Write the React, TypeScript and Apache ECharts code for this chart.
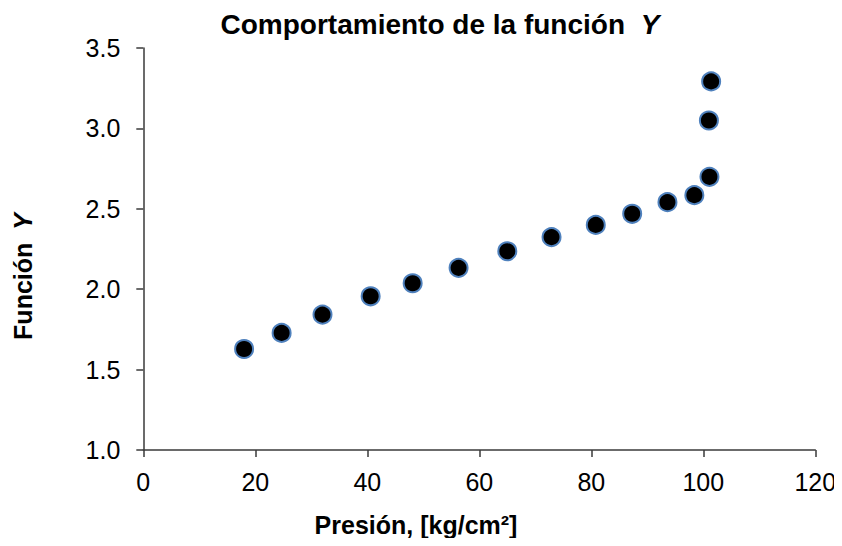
import React, { useEffect, useRef } from "react";
import * as echarts from "echarts";

const presion: number[] = [18.0, 24.7, 32.0, 40.6, 48.1, 56.3, 65.0, 72.9, 80.8, 87.3, 93.6, 98.4, 101.1, 101.0, 101.4];
const funcionY: number[] = [1.628, 1.728, 1.842, 1.956, 2.037, 2.133, 2.236, 2.324, 2.4, 2.469, 2.541, 2.585, 2.699, 3.049, 3.292];

const xTicks = { min: 0, max: 120, interval: 20 };
const yTicks = { min: 1.0, max: 3.5, interval: 0.5 };

const FONT = "'Liberation Sans', Arial, sans-serif";

export default function App() {
  const ref = useRef<HTMLDivElement>(null);
  useEffect(() => {
    if (!ref.current) return;
    const chart = echarts.init(ref.current, null, { renderer: "svg" });
    const axisLine = { show: true, lineStyle: { color: "#3a3a3a", width: 1.5 } };
    chart.setOption({
      animation: false,
      backgroundColor: "#ffffff",
      title: {
        text: "{b|Comportamiento de la función }{i|Y}",
        left: 432,
        top: 2,
        padding: 0,
        textAlign: "center",
        textStyle: {
          rich: {
            b: { fontFamily: FONT, fontSize: 28, fontWeight: "bold", color: "#000" },
            i: { fontFamily: FONT, fontSize: 28, fontWeight: "bold", fontStyle: "italic", color: "#000", padding: [0, 0, 0, 8] },
          },
        },
      },
      grid: { left: 135.3, right: 26.7, top: 40, bottom: 88, containLabel: false, outerBoundsMode: "none" },
      xAxis: {
        type: "value",
        min: xTicks.min,
        max: xTicks.max,
        interval: xTicks.interval,
        axisLine,
        axisTick: { show: true, length: 7, inside: false, lineStyle: { color: "#3a3a3a", width: 1.5 } },
        axisLabel: { fontFamily: FONT, fontSize: 25, color: "#000", margin: 19 },
        splitLine: { show: false },
      },
      yAxis: {
        type: "value",
        min: yTicks.min,
        max: yTicks.max,
        interval: yTicks.interval,
        axisLine,
        axisTick: { show: true, length: 7, inside: false, lineStyle: { color: "#3a3a3a", width: 1.5 } },
        axisLabel: {
          fontFamily: FONT,
          fontSize: 25,
          color: "#000",
          margin: 23,
          formatter: (v: number) => v.toFixed(1),
        },
        splitLine: { show: false },
      },
      graphic: [
        {
          type: "text",
          x: 408,
          y: 517,
          style: {
            text: "Presión, [kg/cm²]",
            fontFamily: FONT,
            fontSize: 25,
            fontWeight: "bold",
            fill: "#000",
            textAlign: "center",
            textVerticalAlign: "middle",
          },
        },
        {
          type: "text",
          x: 14.5,
          y: 268.5,
          rotation: Math.PI / 2,
          style: {
            text: "{b|Función }{i|Y}",
            textAlign: "center",
            textVerticalAlign: "middle",
            rich: {
              b: { fontFamily: FONT, fontSize: 25, fontWeight: "bold", fill: "#000" },
              i: { fontFamily: FONT, fontSize: 25, fontWeight: "bold", fontStyle: "italic", fill: "#000", padding: [0, 0, 0, 6] },
            },
          },
        },
      ],
      series: [
        {
          type: "scatter",
          data: presion.map((p, i) => [p, funcionY[i]]),
          symbol: "circle",
          symbolSize: 18,
          itemStyle: { color: "#000000", borderColor: "#4f81bd", borderWidth: 2, opacity: 1 },
        },
      ],
    });
    return () => chart.dispose();
  }, []);
  return <div ref={ref} style={{ width: 834, height: 530 }} />;
}
